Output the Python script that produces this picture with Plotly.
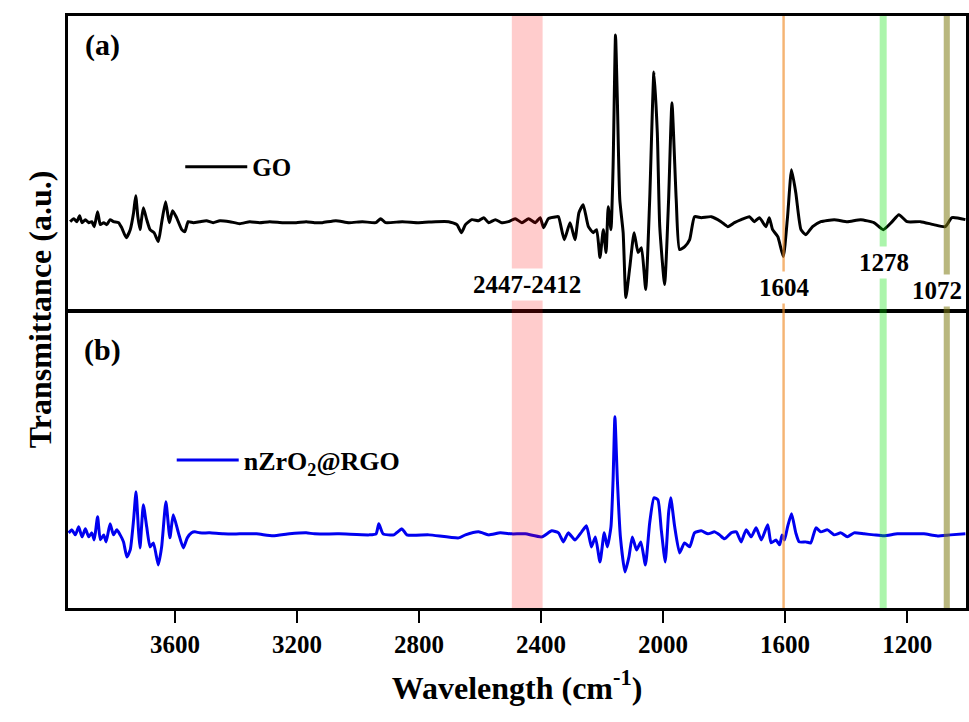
import plotly.graph_objects as go
from plotly.subplots import make_subplots

# ---- data (wavenumber in cm-1, relative transmittance, a.u.) ----
go_wn = [3944, 3932, 3922, 3913, 3905, 3894, 3883, 3873, 3865, 3854, 3845, 3834, 3824, 3813, 3802,
         3785, 3775, 3760, 3747, 3736, 3729, 3722, 3715, 3704, 3693, 3682, 3669, 3655, 3644, 3631,
         3619, 3608, 3595, 3578, 3568, 3557, 3540, 3519, 3497, 3475, 3453, 3421, 3388, 3355, 3323,
         3290, 3246, 3203, 3170, 3143, 3117, 3073, 3030, 2986, 2942, 2926, 2910, 2855, 2801, 2746,
         2703, 2676, 2661, 2648, 2627, 2605, 2588, 2572, 2550, 2529, 2507, 2485, 2463, 2441, 2419,
         2403, 2392, 2376, 2349, 2343, 2324, 2305, 2289, 2276, 2262, 2245, 2229, 2218, 2207, 2196,
         2187, 2180, 2171, 2164, 2156, 2150, 2142, 2131, 2122, 2109, 2095, 2082, 2071, 2057, 2044,
         2030, 2019, 2011, 1995, 1982, 1971, 1957, 1946, 1929, 1913, 1897, 1875, 1842, 1810, 1788,
         1766, 1744, 1717, 1701, 1684, 1663, 1652, 1641, 1624, 1606, 1592, 1579, 1565, 1548, 1532,
         1510, 1483, 1439, 1396, 1352, 1309, 1278, 1249, 1227, 1200, 1156, 1113, 1075, 1053, 1009]
go_val = [0, 3, 0, 6, -1, 2, -1, 0, -5, 10, -3, -1, -3, 2, 0,
          -1, -6, -16, -8, 9, 26, 5, -8, 14, 2, -8, -11, -20, -1, 20,
          -1, 11, 4, -8, -10, 0, -1, 0, 1, -1, 1, 0, -2, 0, -1,
          0, -1, -1, 0, -1, -1, 1, -1, 0, -1, 3, -1, 0, -1, 0,
          0, -3, -11, -3, 2, 1, 4, -1, 2, -1, 0, 3, -1, 3, -1,
          4, -6, 3, 5, 5, -18, -1, -18, 9, 17, -5, -11, -8, -36, -8,
          -31, 15, -8, 55, 187, 122, 22, -11, -76, -45, -11, -31, -26, -68, 22,
          150, 89, -5, -63, 22, 119, 22, -28, -25, -18, 5, 4, 5, 0, -5,
          -1, 2, 5, 0, 4, -5, 4, -8, -15, -35, 5, 52, 29, -8, -13,
          -5, 0, 2, 0, 2, -1, -8, 0, 7, 0, 0, -3, -5, 4, 2]

rgo_wn = [3949, 3938, 3927, 3916, 3905, 3894, 3883, 3873, 3865, 3854, 3845, 3834, 3826, 3813, 3802,
          3791, 3780, 3769, 3758, 3747, 3736, 3728, 3720, 3715, 3704, 3693, 3682, 3671, 3655, 3644,
          3630, 3617, 3606, 3589, 3573, 3560, 3546, 3535, 3519, 3486, 3442, 3388, 3333, 3279, 3225,
          3170, 3143, 3062, 2964, 2941, 2932, 2918, 2883, 2856, 2840, 2768, 2670, 2648, 2605, 2572,
          2534, 2496, 2452, 2398, 2365, 2343, 2327, 2311, 2289, 2267, 2251, 2235, 2222, 2207, 2193,
          2183, 2171, 2164, 2158, 2150, 2140, 2125, 2112, 2101, 2087, 2073, 2058, 2044, 2030, 2017,
          2006, 1993, 1982, 1975, 1962, 1946, 1930, 1913, 1897, 1875, 1853, 1831, 1815, 1799, 1777,
          1760, 1744, 1728, 1711, 1695, 1678, 1657, 1646, 1630, 1618, 1610, 1602, 1592, 1579, 1565,
          1554, 1532, 1516, 1499, 1483, 1461, 1439, 1417, 1396, 1374, 1341, 1309, 1276, 1232, 1189,
          1145, 1102, 1058, 1009]
rgo_val = [1, 4, -1, 7, -3, 5, -3, 1, -6, 17, -6, -1, -8, 10, -1,
           4, -1, -8, -23, -16, 14, 42, 4, -14, 29, 7, -13, -9, -31, -13,
           32, -4, 19, 1, -14, -4, 1, 2, 1, 1, 0, 0, 0, -2, 0,
           1, 0, 0, -1, 0, 10, 0, -1, 5, -1, -1, -4, -1, 2, -1,
           1, 0, 0, -3, 3, 1, -8, 1, -6, 2, 8, -13, -3, -28, 1,
           -13, 7, 54, 117, 54, -3, -38, -23, -3, -16, -8, -31, 11, 36, 34,
           4, -28, 21, 36, 7, -19, -9, -13, 1, 3, 0, 2, -1, -5, 1,
           2, -8, 4, -3, 6, -6, 9, -9, -6, -11, -1, -6, 7, 20, 1,
           -8, -8, -9, 6, 2, 4, -1, 1, -3, 1, 0, -1, -2, 0, 0,
           0, -2, -1, 0]

x_ticks = [3600, 3200, 2800, 2400, 2000, 1600, 1200]
x_range = [3951, 1007]

# highlighted regions: (start, end, colour)
bands = [(2496, 2395, "rgba(255,0,0,0.2)"),
         (1609, 1601, "rgba(240,140,40,0.65)"),
         (1290, 1267, "rgba(0,225,0,0.33)"),
         (1080, 1060, "rgba(128,124,20,0.55)")]
band_labels = [("2447-2412", 2445, 0.546), ("1604", 1603, 0.542),
               ("1278", 1276, 0.583), ("1072", 1102, 0.537)]

SERIF = "Liberation Serif"

fig = make_subplots(rows=2, cols=1, shared_xaxes=True, vertical_spacing=0)

fig.add_trace(go.Scatter(x=go_wn, y=go_val, mode="lines", name="GO",
                         line=dict(color="black", width=3, shape="spline", smoothing=0.5),
                         legend="legend"), row=1, col=1)
fig.add_trace(go.Scatter(x=rgo_wn, y=rgo_val, mode="lines", name="nZrO<sub>2</sub>@RGO",
                         line=dict(color="#0000f0", width=3, shape="spline", smoothing=0.5),
                         legend="legend2"), row=2, col=1)

for x0, x1, col in bands:
    fig.add_shape(type="rect", xref="x2", yref="paper", x0=x0, x1=x1, y0=0, y1=1,
                  fillcolor=col, line=dict(width=0), layer="above")

for txt, xv, yv in band_labels:
    fig.add_annotation(text="<b>" + txt + "</b>", xref="x2", yref="paper", x=xv, y=yv,
                       xanchor="center", yanchor="middle",
                       showarrow=False, bgcolor="white", borderpad=2,
                       font=dict(family=SERIF, size=25, color="black"))

fig.add_annotation(text="<b>(a)</b>", xref="paper", yref="paper", x=0.038, y=0.951,
                   xanchor="center", yanchor="middle",
                   showarrow=False, font=dict(family=SERIF, size=30, color="black"))
fig.add_annotation(text="<b>(b)</b>", xref="paper", yref="paper", x=0.038, y=0.436,
                   xanchor="center", yanchor="middle",
                   showarrow=False, font=dict(family=SERIF, size=30, color="black"))
fig.add_annotation(text="<b>Transmittance (a.u.)</b>", xref="paper", yref="paper",
                   x=-0.031, y=0.505, textangle=-90, showarrow=False,
                   xanchor="center", yanchor="middle",
                   font=dict(family=SERIF, size=32, color="black"))

axis_common = dict(showline=True, linewidth=3, linecolor="black", mirror=True,
                   showgrid=False, zeroline=False)

fig.update_layout(
    width=969, height=722,
    margin=dict(l=68, r=0, t=16, b=114),
    paper_bgcolor="white", plot_bgcolor="white",
    showlegend=True,
    xaxis=dict(**axis_common, range=x_range, showticklabels=False, ticks=""),
    xaxis2=dict(**axis_common, range=x_range, tickvals=x_ticks, ticks="outside",
                ticklen=12, tickwidth=2, tickcolor="black",
                tickfont=dict(family=SERIF, size=25, color="black", weight="bold"),
                title=dict(text="<b>Wavelength (cm<sup>-1</sup>)</b>", standoff=20,
                           font=dict(family=SERIF, size=32, color="black"))),
    yaxis=dict(**axis_common, domain=[0.5042, 1], range=[-88, 206], showticklabels=False, ticks=""),
    yaxis2=dict(**axis_common, domain=[0, 0.4992], range=[-74, 221], showticklabels=False, ticks=""),
    legend=dict(x=0.125, y=0.745, xanchor="left", yanchor="middle", bgcolor="rgba(0,0,0,0)",
                itemwidth=62, font=dict(family=SERIF, size=25, color="black", weight="bold")),
    legend2=dict(x=0.1155, y=0.25, xanchor="left", yanchor="middle", bgcolor="rgba(0,0,0,0)",
                 itemwidth=62, font=dict(family=SERIF, size=26, color="black", weight="bold")),
)

fig.write_html("out.html", config={"displayModeBar": False},
               post_script="document.body.style.margin='0';document.body.style.overflow='hidden';")
